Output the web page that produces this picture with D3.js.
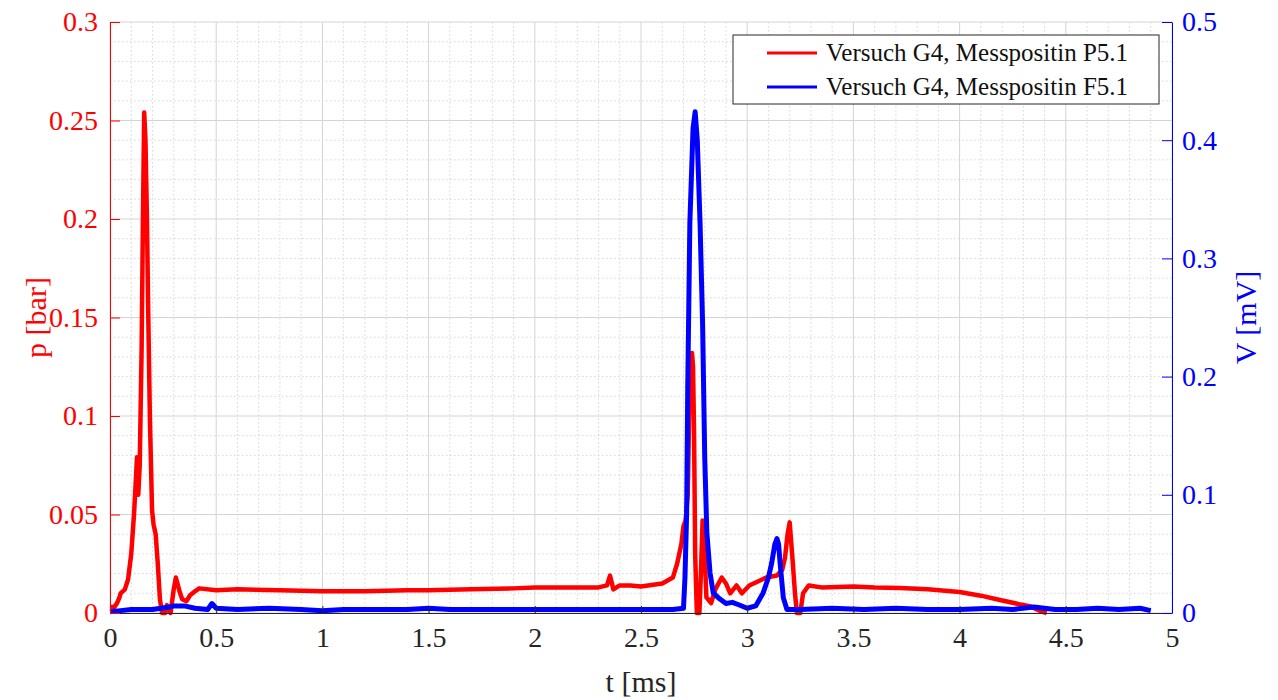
<!DOCTYPE html>
<html>
<head>
<meta charset="utf-8">
<script src="https://cdn.jsdelivr.net/npm/d3@7"></script>
<style>
    body { margin: 0; background: #fff; }
    svg text { font-family: "Liberation Serif", "Times New Roman", serif; }
</style>
</head>
<body>
<div id="wrapper"></div>
<script>
// Pressure signal p [bar] (red, left axis), time in ms
const pTime = [0, 0.02, 0.033, 0.045, 0.05, 0.07, 0.085, 0.1, 0.113, 0.121, 0.127, 0.133, 0.14, 0.149, 0.155, 0.161, 0.167, 0.174, 0.18, 0.188, 0.198, 0.205, 0.215, 0.225, 0.235, 0.245, 0.26, 0.268, 0.285, 0.3, 0.31, 0.32, 0.33, 0.34, 0.36, 0.377, 0.4, 0.42, 0.5, 0.6, 0.8, 1.0, 1.2, 1.4, 1.5, 1.7, 1.9, 2.0, 2.2, 2.3, 2.34, 2.354, 2.37, 2.4, 2.45, 2.5, 2.6, 2.65, 2.67, 2.69, 2.7, 2.71, 2.72, 2.73, 2.74, 2.745, 2.75, 2.755, 2.763, 2.775, 2.782, 2.79, 2.8, 2.808, 2.83, 2.85, 2.88, 2.9, 2.92, 2.95, 2.975, 3.01, 3.05, 3.09, 3.14, 3.165, 3.178, 3.19, 3.2, 3.215, 3.225, 3.234, 3.25, 3.263, 3.29, 3.35, 3.5, 3.6, 3.72, 3.85, 4.0, 4.1, 4.19, 4.28, 4.33, 4.38, 4.41];
const pValue = [0.003, 0.003, 0.005, 0.008, 0.010, 0.012, 0.017, 0.030, 0.050, 0.066, 0.079, 0.060, 0.075, 0.135, 0.200, 0.254, 0.240, 0.200, 0.152, 0.098, 0.052, 0.045, 0.040, 0.025, 0.007, 0.000, 0.000, 0.004, 0.000, 0.012, 0.018, 0.014, 0.010, 0.007, 0.006, 0.009, 0.011, 0.0125, 0.0115, 0.012, 0.0115, 0.011, 0.011, 0.0115, 0.0115, 0.012, 0.0125, 0.013, 0.013, 0.013, 0.014, 0.019, 0.012, 0.014, 0.014, 0.0135, 0.015, 0.018, 0.025, 0.035, 0.044, 0.047, 0.060, 0.120, 0.132, 0.125, 0.090, 0.030, 0.000, 0.000, 0.020, 0.047, 0.030, 0.008, 0.005, 0.012, 0.018, 0.015, 0.010, 0.014, 0.010, 0.014, 0.016, 0.018, 0.019, 0.022, 0.028, 0.040, 0.046, 0.025, 0.010, 0.000, 0.000, 0.010, 0.014, 0.013, 0.0135, 0.013, 0.0127, 0.012, 0.0107, 0.0088, 0.0066, 0.0045, 0.0035, 0.001, 0.000];

// Sensor signal V [mV] (blue, right axis)
const vTime = [0, 0.05, 0.1, 0.2, 0.28, 0.3, 0.35, 0.4, 0.46, 0.48, 0.5, 0.6, 0.75, 0.9, 1.0, 1.1, 1.25, 1.4, 1.5, 1.6, 1.8, 2.0, 2.2, 2.4, 2.55, 2.65, 2.7, 2.707, 2.715, 2.72, 2.73, 2.745, 2.755, 2.765, 2.778, 2.79, 2.8, 2.81, 2.825, 2.84, 2.87, 2.9, 2.93, 2.96, 3.0, 3.04, 3.075, 3.1, 3.115, 3.13, 3.14, 3.148, 3.155, 3.17, 3.187, 3.25, 3.4, 3.55, 3.7, 3.85, 4.0, 4.15, 4.25, 4.35, 4.45, 4.55, 4.65, 4.75, 4.85, 4.9];
const vValue = [0.001, 0.002, 0.003, 0.003, 0.005, 0.006, 0.006, 0.004, 0.003, 0.008, 0.004, 0.003, 0.004, 0.003, 0.002, 0.003, 0.003, 0.003, 0.004, 0.003, 0.003, 0.003, 0.003, 0.003, 0.003, 0.003, 0.004, 0.03, 0.085, 0.19, 0.33, 0.41, 0.424, 0.40, 0.33, 0.245, 0.132, 0.068, 0.034, 0.017, 0.012, 0.008, 0.009, 0.007, 0.004, 0.006, 0.017, 0.030, 0.042, 0.058, 0.063, 0.058, 0.042, 0.013, 0.003, 0.003, 0.004, 0.003, 0.004, 0.003, 0.003, 0.004, 0.003, 0.005, 0.003, 0.003, 0.004, 0.003, 0.004, 0.002];

const xTicks = [0, 0.5, 1, 1.5, 2, 2.5, 3, 3.5, 4, 4.5, 5];
const pTicks = [0, 0.05, 0.1, 0.15, 0.2, 0.25, 0.3];
const vTicks = [0, 0.1, 0.2, 0.3, 0.4, 0.5];
const legendLabels = ["Versuch G4, Messpositin P5.1", "Versuch G4, Messpositin F5.1"];
const seriesColors = ["#ff0000", "#0000ff"];

const serif = '"Liberation Serif", "Times New Roman", serif'

let dimensions = {
    width: 1278,
    height: 700,
    margins: { top: 22, right: 106, bottom: 87, left: 110 }
}
dimensions.boundedWidth = dimensions.width - dimensions.margins.left - dimensions.margins.right
dimensions.boundedHeight = dimensions.height - dimensions.margins.top - dimensions.margins.bottom

const wrapper = d3.select("#wrapper")
    .append("svg")
        .attr("width", dimensions.width)
        .attr("height", dimensions.height)

const boundingBox = wrapper.append("g")
    .attr("transform", `translate(${dimensions.margins.left},${dimensions.margins.top})`)

// scales
const xScale = d3.scaleLinear().domain([0, 5]).range([0, dimensions.boundedWidth])
const yScale = d3.scaleLinear().domain([0, 0.3]).range([dimensions.boundedHeight, 0])
const vScale = d3.scaleLinear().domain([0, 0.5]).range([dimensions.boundedHeight, 0])

// grid: minor dotted, major solid
const xMinor = d3.range(0, 51).map(i => i / 10).filter(t => Math.round(t * 10) % 5 !== 0)
const yMinor = d3.range(0, 31).map(i => i / 100).filter(p => Math.round(p * 100) % 5 !== 0)
const grid = boundingBox.append("g")
grid.selectAll(".xminor").data(xMinor).join("line")
    .attr("x1", d => xScale(d)).attr("x2", d => xScale(d))
    .attr("y1", 0).attr("y2", dimensions.boundedHeight)
    .attr("stroke", "#d6d6d6").attr("stroke-dasharray", "1.5,2.5")
grid.selectAll(".yminor").data(yMinor).join("line")
    .attr("x1", 0).attr("x2", dimensions.boundedWidth)
    .attr("y1", d => yScale(d)).attr("y2", d => yScale(d))
    .attr("stroke", "#d6d6d6").attr("stroke-dasharray", "1.5,2.5")
grid.selectAll(".xmajor").data(xTicks).join("line")
    .attr("x1", d => xScale(d)).attr("x2", d => xScale(d))
    .attr("y1", 0).attr("y2", dimensions.boundedHeight)
    .attr("stroke", "#d4d4d4")
grid.selectAll(".ymajor").data(pTicks).join("line")
    .attr("x1", 0).attr("x2", dimensions.boundedWidth)
    .attr("y1", d => yScale(d)).attr("y2", d => yScale(d))
    .attr("stroke", "#d4d4d4")

// lines
const pData = pTime.map((t, i) => ({ t: t, v: pValue[i] }))
const vData = vTime.map((t, i) => ({ t: t, v: vValue[i] }))

const pLine = d3.line().x(d => xScale(d.t)).y(d => yScale(d.v))
const vLine = d3.line().x(d => xScale(d.t)).y(d => vScale(d.v))

boundingBox.append("path")
    .attr("d", pLine(pData))
    .attr("fill", "none")
    .attr("stroke", seriesColors[0])
    .attr("stroke-width", 4.5)
    .attr("stroke-linejoin", "round")

boundingBox.append("path")
    .attr("d", vLine(vData))
    .attr("fill", "none")
    .attr("stroke", seriesColors[1])
    .attr("stroke-width", 5)
    .attr("stroke-linejoin", "round")

// axes
const fontSize = 28
const xAxis = boundingBox.append("g")
    .attr("transform", `translate(0,${dimensions.boundedHeight})`)
    .call(d3.axisBottom(xScale).tickValues(xTicks).tickSizeInner(-7).tickSizeOuter(0).tickPadding(14).tickFormat(d3.format("")))
    .attr("font-family", serif).attr("font-size", fontSize)
xAxis.select(".domain").attr("stroke", "#262626")
xAxis.selectAll(".tick line").attr("stroke", "#262626")
xAxis.selectAll("text").attr("fill", "#262626")

const yAxis = boundingBox.append("g")
    .call(d3.axisLeft(yScale).tickValues(pTicks).tickSizeInner(-10).tickSizeOuter(0).tickPadding(12).tickFormat(d3.format("")))
    .attr("font-family", serif).attr("font-size", fontSize)
yAxis.select(".domain").attr("stroke", seriesColors[0])
yAxis.selectAll(".tick line").attr("stroke", seriesColors[0])
yAxis.selectAll("text").attr("fill", seriesColors[0])

const vAxis = boundingBox.append("g")
    .attr("transform", `translate(${dimensions.boundedWidth},0)`)
    .call(d3.axisRight(vScale).tickValues(vTicks).tickSizeInner(-10).tickSizeOuter(0).tickPadding(10).tickFormat(d3.format("")))
    .attr("font-family", serif).attr("font-size", fontSize)
vAxis.select(".domain").attr("stroke", seriesColors[1])
vAxis.selectAll(".tick line").attr("stroke", seriesColors[1])
vAxis.selectAll("text").attr("fill", seriesColors[1])

// axis labels
wrapper.append("text")
    .attr("x", dimensions.margins.left + dimensions.boundedWidth / 2)
    .attr("y", 692)
    .attr("text-anchor", "middle")
    .attr("fill", "#262626")
    .style("font-size", "30px")
    .text("t [ms]")

wrapper.append("text")
    .attr("transform", `translate(46,${dimensions.margins.top + dimensions.boundedHeight / 2}) rotate(-90)`)
    .attr("text-anchor", "middle")
    .attr("fill", seriesColors[0])
    .style("font-size", "30px")
    .text("p [bar]")

wrapper.append("text")
    .attr("transform", `translate(1256,${dimensions.margins.top + dimensions.boundedHeight / 2}) rotate(-90)`)
    .attr("text-anchor", "middle")
    .attr("fill", seriesColors[1])
    .style("font-size", "30px")
    .text("V [mV]")

// legend
const legend = wrapper.append("g").attr("transform", "translate(733,35)")
legend.append("rect")
    .attr("width", 426).attr("height", 69)
    .attr("fill", "#fff").attr("stroke", "#262626").attr("stroke-width", 1)
legendLabels.forEach((label, i) => {
    const row = legend.append("g").attr("transform", `translate(0,${18 + i * 34})`)
    row.append("line")
        .attr("x1", 34).attr("x2", 84)
        .attr("stroke", seriesColors[i]).attr("stroke-width", 3)
    row.append("text")
        .attr("x", 93).attr("y", 8)
        .attr("fill", "#111")
        .style("font-size", "25px")
        .text(label)
})
</script>
</body>
</html>
